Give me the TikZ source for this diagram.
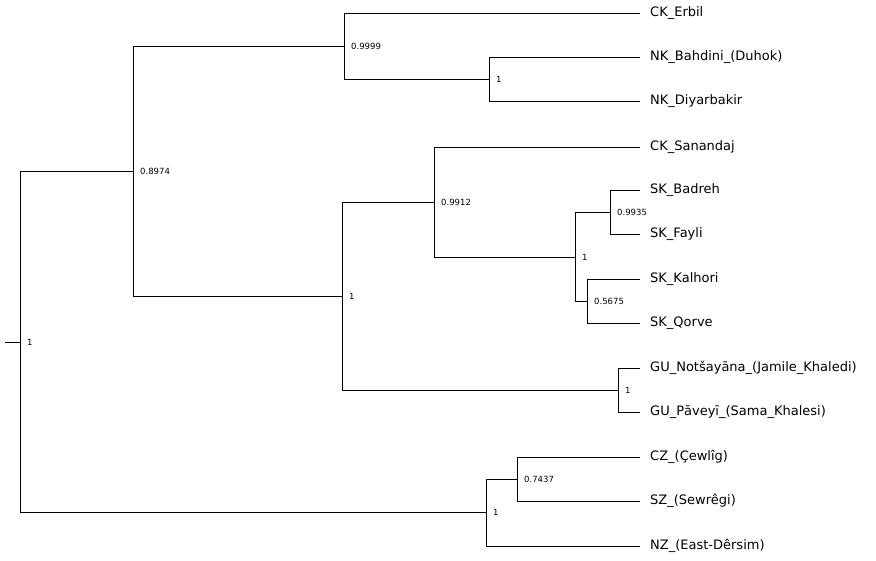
\documentclass[tikz,border=0pt]{standalone}
\usepackage{fontspec}
\setmainfont{DejaVu Sans}
\begin{document}
\begin{tikzpicture}
            [x=1pt,y=-1pt,
                branch/.style={black,line width=0.6pt},
                tip/.style={inner sep=0pt,minimum size=0pt},
                taxon/.style={anchor=west,inner sep=0pt,font=\fontsize{13}{15}\selectfont},
                support/.style={anchor=west,inner sep=0pt,font=\fontsize{8.5}{11}\selectfont}]
            \useasboundingbox (0,0) rectangle (876,560);
            %internal nodes with their support values
            \coordinate (stem) at (5,342);
            \node[tip] (root) at (20,342) {};
            \node[support] at ([xshift=7pt]root) {1};
            \foreach \name/\x/\y/\val in {nA/133/171/0.8974, nB/344/46/0.9999, nC/489/79/1,
                    nD/342/296/1, nE/434/202/0.9912, nF/575/257/1, nG/610/212/0.9935,
                    nH/587/301/0.5675, nI/618/390/1, nJ/486/512/1, nK/517/479/0.7437}{
                \node[tip] (\name) at (\x,\y) {};
                \node[support] at ([xshift=7pt]\name) {\val};
            }
	
            %leaves and their labels
            \foreach \name/\y/\txt in {erbil/13/CK\_Erbil, bahdini/57/NK\_Bahdini\_(Duhok),
                    diyar/101/NK\_Diyarbakir, sanan/147/CK\_Sanandaj, badreh/190/SK\_Badreh,
                    fayli/234/SK\_Fayli, kalhori/279/SK\_Kalhori, qorve/323/SK\_Qorve,
                    notsa/368/GU\_Notšayāna\_(Jamile\_Khaledi), paveyi/412/GU\_Pāveyī\_(Sama\_Khalesi),
                    cewlig/457/CZ\_(Çewlîg), sewregi/501/SZ\_(Sewrêgi), dersim/546/NZ\_(East-Dêrsim)}{
                \node[tip] (\name) at (640,\y) {};
                \node[taxon] at ([xshift=10pt]\name) {\txt};
            }
	
            %draw the branches
            \draw[branch] (stem) -- (root);
            \foreach \parent/\kids in {root/{nA,nJ}, nA/{nB,nD}, nB/{erbil,nC}, nC/{bahdini,diyar},
                    nD/{nE,nI}, nE/{sanan,nF}, nF/{nG,nH}, nG/{badreh,fayli}, nH/{kalhori,qorve},
                    nI/{notsa,paveyi}, nJ/{nK,dersim}, nK/{cewlig,sewregi}}{
                \foreach \kid in \kids
                    \draw[branch] (\parent.center) |- (\kid.center);
            }
        \end{tikzpicture}
\end{document}
